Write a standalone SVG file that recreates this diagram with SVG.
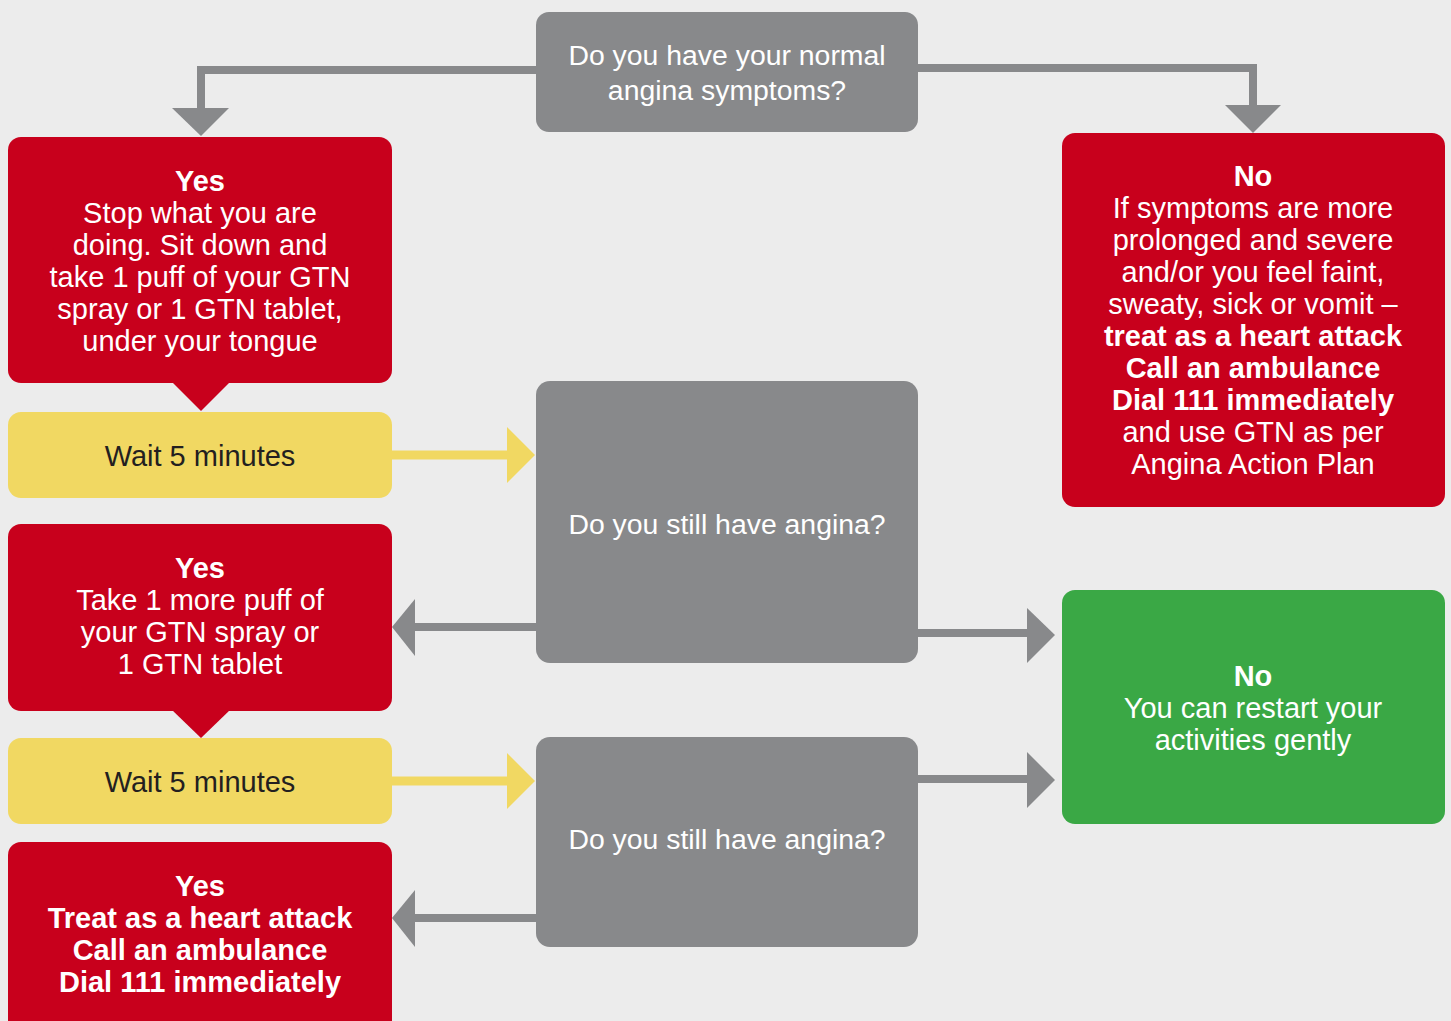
<svg xmlns="http://www.w3.org/2000/svg" width="1451" height="1021" viewBox="0 0 1451 1021">
<style>
text{font-family:"Liberation Sans",Arial,sans-serif;font-size:29px;text-anchor:middle}
.w{fill:#ffffff}
.d{fill:#231f20}
.b{font-weight:700}
.q{font-size:28.4px}
.red{fill:#c8001c}
.grey{fill:#88898b}
.yel{fill:#f1d862}
.grn{fill:#3aa845}
.gl{stroke:#88898b;stroke-width:8;fill:none}
.yl{stroke:#f1d862;stroke-width:9;fill:none}
.gh{fill:#88898b}
.yh{fill:#f1d862}
</style>
<rect width="1451" height="1021" fill="#ececec"/>
<g id="connectors">
<polyline class="gl" points="537,70 201,70 201,110"/>
<polygon class="gh" points="172,108 229,108 201,136"/>
<polyline class="gl" points="917,68 1253,68 1253,107"/>
<polygon class="gh" points="1225,105 1281,105 1253,133"/>
<line class="yl" x1="390" y1="455" x2="509" y2="455"/>
<polygon class="yh" points="507,427 507,483 535,455"/>
<line class="yl" x1="390" y1="781" x2="509" y2="781"/>
<polygon class="yh" points="507,753 507,809 535,781"/>
<line class="gl" x1="537" y1="627" x2="413" y2="627"/>
<polygon class="gh" points="415,599 415,656 392,627"/>
<line class="gl" x1="537" y1="918" x2="413" y2="918"/>
<polygon class="gh" points="415,890 415,947 392,918"/>
<line class="gl" x1="917" y1="633" x2="1029" y2="633"/>
<polygon class="gh" points="1027,608 1027,663 1055,635"/>
<line class="gl" x1="917" y1="779" x2="1029" y2="779"/>
<polygon class="gh" points="1027,752 1027,808 1055,780"/>
</g>
<g id="q1">
<rect class="grey" x="536" y="12" width="382" height="120" rx="13"/>
<text class="w q" x="727" y="65">Do you have your normal</text>
<text class="w q" x="727" y="100">angina symptoms?</text>
</g>
<g id="yes1">
<rect class="red" x="8" y="137" width="384" height="246" rx="13"/>
<polygon class="red" points="172,382 230,382 201,411"/>
<text class="w b" x="200" y="191">Yes</text>
<text class="w" x="200" y="223">Stop what you are</text>
<text class="w" x="200" y="255">doing. Sit down and</text>
<text class="w" x="200" y="287">take 1 puff of your GTN</text>
<text class="w" x="200" y="319">spray or 1 GTN tablet,</text>
<text class="w" x="200" y="351">under your tongue</text>
</g>
<g id="wait1">
<rect class="yel" x="8" y="412" width="384" height="86" rx="13"/>
<text class="d" x="200" y="466">Wait 5 minutes</text>
</g>
<g id="no1">
<rect class="red" x="1062" y="133" width="383" height="374" rx="13"/>
<text class="w b" x="1253" y="186">No</text>
<text class="w" x="1253" y="218">If symptoms are more</text>
<text class="w" x="1253" y="250">prolonged and severe</text>
<text class="w" x="1253" y="282">and/or you feel faint,</text>
<text class="w" x="1253" y="314">sweaty, sick or vomit –</text>
<text class="w b" x="1253" y="346">treat as a heart attack</text>
<text class="w b" x="1253" y="378">Call an ambulance</text>
<text class="w b" x="1253" y="410">Dial 111 immediately</text>
<text class="w" x="1253" y="442">and use GTN as per</text>
<text class="w" x="1253" y="474">Angina Action Plan</text>
</g>
<g id="q2">
<rect class="grey" x="536" y="381" width="382" height="282" rx="14"/>
<text class="w q" x="727" y="534">Do you still have angina?</text>
</g>
<g id="yes2">
<rect class="red" x="8" y="524" width="384" height="187" rx="13"/>
<polygon class="red" points="172,710 230,710 201,738"/>
<text class="w b" x="200" y="578">Yes</text>
<text class="w" x="200" y="610">Take 1 more puff of</text>
<text class="w" x="200" y="642">your GTN spray or</text>
<text class="w" x="200" y="674">1 GTN tablet</text>
</g>
<g id="wait2">
<rect class="yel" x="8" y="738" width="384" height="86" rx="13"/>
<text class="d" x="200" y="792">Wait 5 minutes</text>
</g>
<g id="no2">
<rect class="grn" x="1062" y="590" width="383" height="234" rx="13"/>
<text class="w b" x="1253" y="686">No</text>
<text class="w" x="1253" y="718">You can restart your</text>
<text class="w" x="1253" y="750">activities gently</text>
</g>
<g id="q3">
<rect class="grey" x="536" y="737" width="382" height="210" rx="14"/>
<text class="w q" x="727" y="849">Do you still have angina?</text>
</g>
<g id="yes3">
<rect class="red" x="8" y="842" width="384" height="200" rx="13"/>
<text class="w b" x="200" y="896">Yes</text>
<text class="w b" x="200" y="928">Treat as a heart attack</text>
<text class="w b" x="200" y="960">Call an ambulance</text>
<text class="w b" x="200" y="992">Dial 111 immediately</text>
</g>
</svg>
